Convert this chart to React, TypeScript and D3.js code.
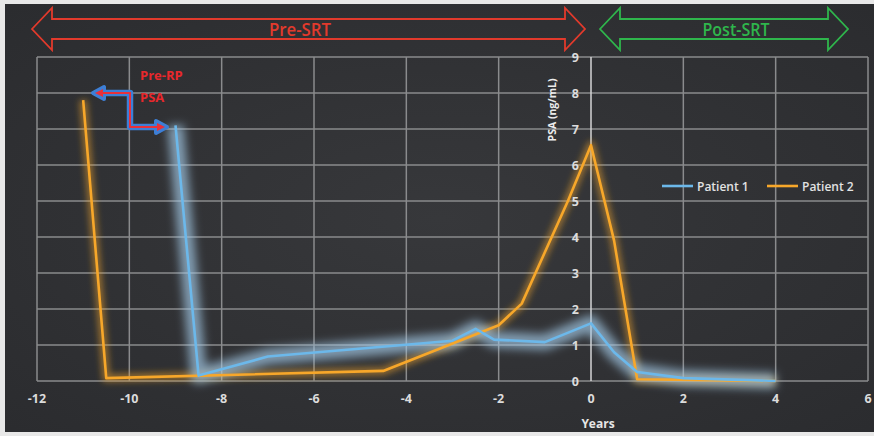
import React from "react";
import * as d3 from "d3";

const W = 874;
const H = 436;

// Patient 1 (blue)
const p1Years = [-9.0, -8.5, -7.0, -3.0, -2.5, -2.1, -1.0, 0, 0.5, 1.0, 2.0, 4.0];
const p1Psa = [7.1, 0.15, 0.68, 1.12, 1.45, 1.15, 1.08, 1.6, 0.8, 0.25, 0.08, 0.0];
// Patient 2 (orange)
const p2Years = [-11.0, -10.5, -4.5, -2.0, -1.5, -0.5, 0, 0.5, 1.0, 4.0];
const p2Psa = [7.8, 0.08, 0.28, 1.55, 2.15, 5.0, 6.55, 3.9, 0.05, 0.0];

const xTicks = [-12, -10, -8, -6, -4, -2, 0, 2, 4, 6];
const yTicks = [0, 1, 2, 3, 4, 5, 6, 7, 8, 9];
const seriesNames = ["Patient 1", "Patient 2"];
const phaseLabels = ["Pre-SRT", "Post-SRT"];
const annotLines = ["Pre-RP", "PSA"];

const BLUE = "#6cb8ea";
const ORANGE = "#f7a72a";
const RED = "#e23a2c";
const GREEN = "#2fb64c";
const FONT = "'Open Sans', 'Noto Sans', 'DejaVu Sans', sans-serif";

function doubleArrow(x0: number, x1: number, yc: number, headLen: number, headHalf: number, shaftHalf: number) {
  const p = d3.path();
  p.moveTo(x0, yc);
  p.lineTo(x0 + headLen, yc - headHalf);
  p.lineTo(x0 + headLen, yc - shaftHalf);
  p.lineTo(x1 - headLen, yc - shaftHalf);
  p.lineTo(x1 - headLen, yc - headHalf);
  p.lineTo(x1, yc);
  p.lineTo(x1 - headLen, yc + headHalf);
  p.lineTo(x1 - headLen, yc + shaftHalf);
  p.lineTo(x0 + headLen, yc + shaftHalf);
  p.lineTo(x0 + headLen, yc + headHalf);
  p.closePath();
  return p.toString();
}

export default function App() {
  const x = d3.scaleLinear().domain([-12, 6]).range([37, 868]);
  const y = d3.scaleLinear().domain([0, 9]).range([381, 57]);

  const line = d3
    .line<[number, number]>()
    .x((d) => x(d[0]))
    .y((d) => y(d[1]));

  const p1: [number, number][] = p1Years.map((v, i) => [v, p1Psa[i]]);
  const p2: [number, number][] = p2Years.map((v, i) => [v, p2Psa[i]]);

  const x0 = x(0);

  return (
    <svg
      width={W}
      height={H}
      style={{ position: "absolute", left: 0, top: 0, display: "block" }}
    >
      <defs>
        <filter id="glowBig" x="-20%" y="-20%" width="140%" height="140%">
          <feGaussianBlur stdDeviation="5" />
        </filter>
        <filter id="glowSmall" x="-20%" y="-20%" width="140%" height="140%">
          <feGaussianBlur stdDeviation="3" />
        </filter>
        <radialGradient id="bg" cx="50%" cy="50%" r="70%">
          <stop offset="0%" stopColor="#37383b" />
          <stop offset="100%" stopColor="#2b2c2f" />
        </radialGradient>
      </defs>
      <rect x={0} y={0} width={W} height={H} fill="#e8e8e8" />
      <rect x={5} y={4} width={W - 5} height={H - 8} fill="url(#bg)" />

      {/* grid */}
      {yTicks.map((t) => (
        <line key={"gy" + t} x1={x(-12)} x2={x(6)} y1={y(t)} y2={y(t)} stroke="#8a8b8d" strokeWidth={1.5} />
      ))}
      {xTicks.map((t) => (
        <line
          key={"gx" + t}
          x1={x(t)}
          x2={x(t)}
          y1={y(0)}
          y2={y(9)}
          stroke={t === 0 ? "#d4d4d6" : "#8a8b8d"}
          strokeWidth={1.5}
        />
      ))}

      {/* glows */}
      <path d={line(p2) || ""} fill="none" stroke={ORANGE} strokeOpacity={0.5} strokeWidth={8} filter="url(#glowSmall)" strokeLinejoin="round" />
      <path d={line(p1) || ""} fill="none" stroke="#a3c9e6" strokeOpacity={0.7} strokeWidth={16} filter="url(#glowBig)" strokeLinejoin="round" />

      {/* lines */}
      <path d={line(p2) || ""} fill="none" stroke={ORANGE} strokeWidth={2.6} strokeLinejoin="round" />
      <path d={line(p1) || ""} fill="none" stroke={BLUE} strokeWidth={2.6} strokeLinejoin="round" />

      {/* x tick labels */}
      {xTicks.map((t) => (
        <text
          key={"xl" + t}
          x={x(t)}
          y={403}
          textAnchor="middle"
          fontFamily={FONT}
          fontWeight="bold"
          fontSize={12.5}
          fill="#dcdcdc"
        >
          {t}
        </text>
      ))}
      {/* y tick labels */}
      {yTicks.map((t) => (
        <text
          key={"yl" + t}
          x={x0 - 12}
          y={y(t) + 4.5}
          textAnchor="end"
          fontFamily={FONT}
          fontWeight="bold"
          fontSize={12.5}
          fill="#dcdcdc"
        >
          {t}
        </text>
      ))}
      <text x={598} y={428} textAnchor="middle" fontFamily={FONT} fontWeight="bold" fontSize={12} fill="#e6e6e6">
        Years
      </text>
      <text
        transform={`translate(556,110) rotate(-90)`}
        textAnchor="middle"
        fontFamily={FONT}
        fontWeight="bold"
        fontSize={10.5}
        fill="#ececec"
      >
        PSA (ng/mL)
      </text>

      {/* legend */}
      <line x1={662} x2={693} y1={186} y2={186} stroke={BLUE} strokeWidth={2.6} />
      <text x={697} y={190.5} fontFamily={FONT} fontWeight={600} fontSize={12} fill="#e2e2e2">
        {seriesNames[0]}
      </text>
      <line x1={767} x2={798} y1={186} y2={186} stroke={ORANGE} strokeWidth={2.6} />
      <text x={802} y={190.5} fontFamily={FONT} fontWeight={600} fontSize={12} fill="#e2e2e2">
        {seriesNames[1]}
      </text>

      {/* phase arrows */}
      <path d={doubleArrow(32, 585, 29, 20, 21, 10)} fill="none" stroke={RED} strokeWidth={1.8} strokeLinejoin="miter" />
      <text x={300} y={36} textAnchor="middle" fontFamily={FONT} fontWeight={600} fontSize={18} fill={RED} textLength={62} lengthAdjust="spacingAndGlyphs">
        {phaseLabels[0]}
      </text>
      <path d={doubleArrow(600, 848, 29, 20, 21, 10)} fill="none" stroke={GREEN} strokeWidth={1.8} strokeLinejoin="miter" />
      <text x={736} y={36} textAnchor="middle" fontFamily={FONT} fontWeight={600} fontSize={18} fill={GREEN} textLength={67} lengthAdjust="spacingAndGlyphs">
        {phaseLabels[1]}
      </text>

      {/* Pre-RP PSA annotation */}
      <g>
        <path d="M97,93 L130,93 L130,127 L163,127" fill="none" stroke="#3d7fd6" strokeWidth={6.5} strokeLinejoin="round" strokeLinecap="round" />
        <path d="M93,93 L104,87 L104,99 Z M167,127 L156,121 L156,133 Z" fill="#3d7fd6" stroke="#3d7fd6" strokeWidth={4} strokeLinejoin="round" />
        <path d="M100,93 L130,93 L130,127 L160,127" fill="none" stroke="#e8303a" strokeWidth={2} />
        <path d="M95,93 L103,89 L103,97 Z M165,127 L157,123 L157,131 Z" fill="#e8303a" />
        <text x={140} y={80} fontFamily={FONT} fontWeight="bold" fontSize={13} fill="#e8282c">
          {annotLines[0]}
        </text>
        <text x={140} y={102} fontFamily={FONT} fontWeight="bold" fontSize={13} fill="#e8282c">
          {annotLines[1]}
        </text>
      </g>
    </svg>
  );
}
